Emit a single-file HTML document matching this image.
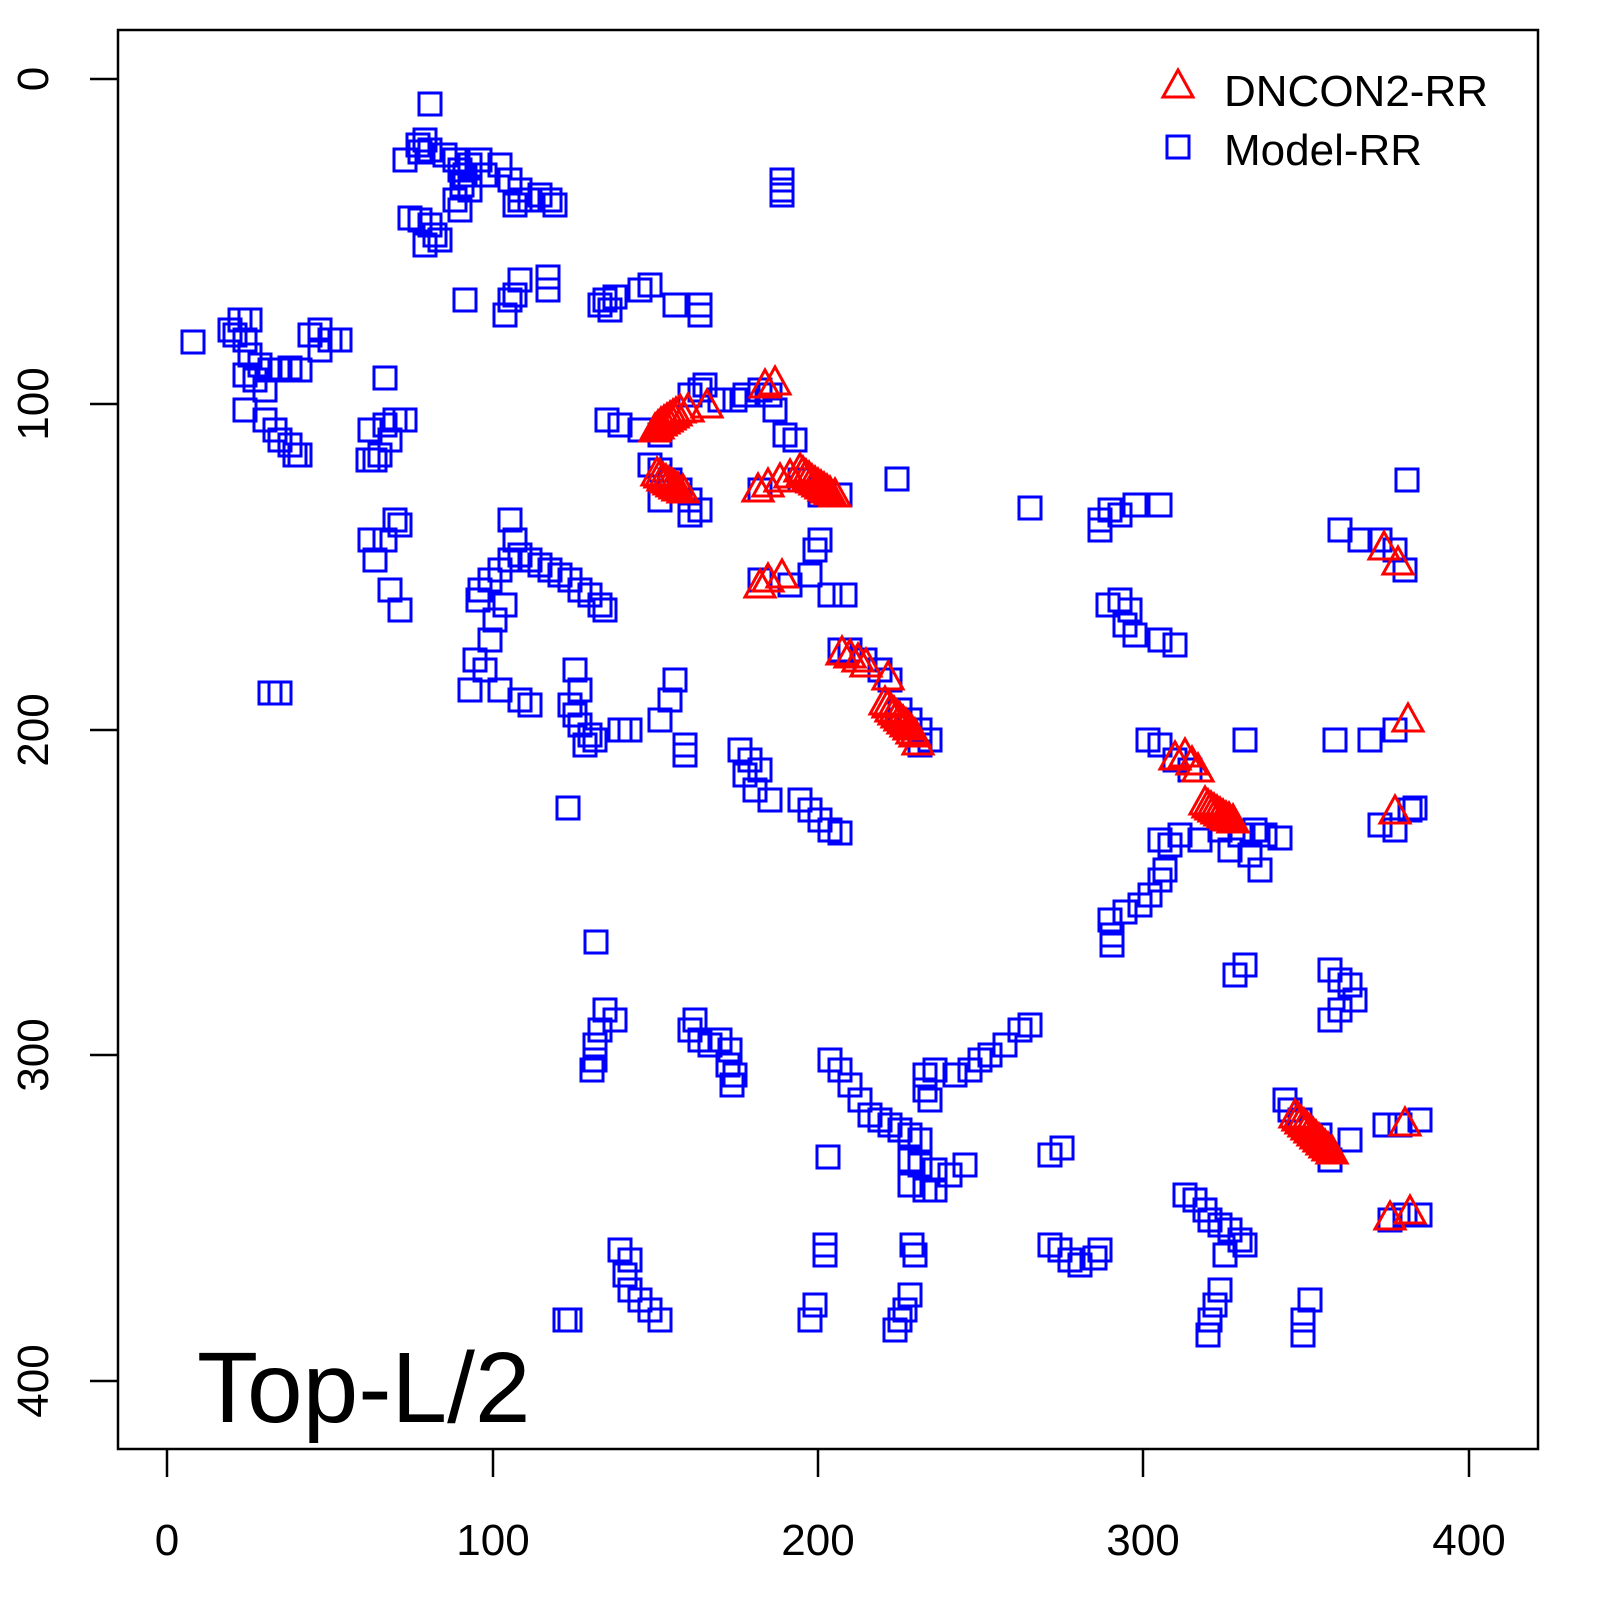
<!DOCTYPE html>
<html><head><meta charset="utf-8"><style>html,body{margin:0;padding:0;background:#fff}svg{display:block}</style></head><body>
<svg width="1600" height="1600" viewBox="0 0 1600 1600" xmlns="http://www.w3.org/2000/svg">
<defs>
<rect id="s" x="-11" y="-11" width="22" height="22" fill="none" stroke="#0000ff" stroke-width="3"/>
<polygon id="t" points="0,-18 -15,9 15,9" fill="none" stroke="#ff0000" stroke-width="3"/>
</defs>
<rect x="118" y="30" width="1420" height="1419" fill="none" stroke="#000" stroke-width="2.5"/>
<g stroke="#000" stroke-width="2.5">
<line x1="167" y1="1449" x2="167" y2="1477"/><line x1="493" y1="1449" x2="493" y2="1477"/><line x1="818" y1="1449" x2="818" y2="1477"/><line x1="1143" y1="1449" x2="1143" y2="1477"/><line x1="1469" y1="1449" x2="1469" y2="1477"/>
<line x1="90" y1="79" x2="118" y2="79"/><line x1="90" y1="404" x2="118" y2="404"/><line x1="90" y1="730" x2="118" y2="730"/><line x1="90" y1="1055" x2="118" y2="1055"/><line x1="90" y1="1381" x2="118" y2="1381"/>
</g>
<g font-family="Liberation Sans, sans-serif" font-size="44" text-anchor="middle" fill="#000">
<text x="167" y="1555">0</text><text x="493" y="1555">100</text><text x="818" y="1555">200</text><text x="1143" y="1555">300</text><text x="1469" y="1555">400</text>
<text transform="translate(48,79) rotate(-90)">0</text>
<text transform="translate(48,404) rotate(-90)">100</text>
<text transform="translate(48,730) rotate(-90)">200</text>
<text transform="translate(48,1055) rotate(-90)">300</text>
<text transform="translate(48,1381) rotate(-90)">400</text>
</g>
<text x="197" y="1422" font-family="Liberation Sans, sans-serif" font-size="100">Top-L/2</text>
<use href="#t" x="1178" y="88"/>
<text x="1224" y="106" font-family="Liberation Sans, sans-serif" font-size="44">DNCON2-RR</text>
<use href="#s" x="1178" y="147"/>
<text x="1224" y="165" font-family="Liberation Sans, sans-serif" font-size="44">Model-RR</text>
<g>
<use href="#s" x="430" y="104"/><use href="#s" x="405" y="160"/><use href="#s" x="418" y="145"/><use href="#s" x="425" y="140"/><use href="#s" x="420" y="152"/><use href="#s" x="430" y="150"/><use href="#s" x="445" y="155"/><use href="#s" x="455" y="160"/><use href="#s" x="460" y="170"/><use href="#s" x="465" y="175"/><use href="#s" x="470" y="165"/><use href="#s" x="480" y="160"/><use href="#s" x="500" y="165"/><use href="#s" x="510" y="180"/><use href="#s" x="520" y="190"/><use href="#s" x="530" y="200"/><use href="#s" x="540" y="195"/><use href="#s" x="550" y="200"/><use href="#s" x="555" y="205"/><use href="#s" x="515" y="205"/><use href="#s" x="520" y="200"/><use href="#s" x="410" y="218"/><use href="#s" x="420" y="220"/><use href="#s" x="430" y="225"/><use href="#s" x="435" y="235"/><use href="#s" x="440" y="240"/><use href="#s" x="425" y="245"/><use href="#s" x="460" y="210"/><use href="#s" x="455" y="200"/><use href="#s" x="462" y="185"/><use href="#s" x="470" y="190"/><use href="#s" x="485" y="175"/>
<use href="#s" x="782" y="180"/><use href="#s" x="782" y="190"/><use href="#s" x="782" y="195"/>
<use href="#s" x="465" y="300"/><use href="#s" x="510" y="300"/><use href="#s" x="505" y="315"/><use href="#s" x="515" y="295"/><use href="#s" x="520" y="280"/><use href="#s" x="548" y="277"/><use href="#s" x="548" y="290"/><use href="#s" x="600" y="305"/><use href="#s" x="610" y="310"/><use href="#s" x="605" y="300"/><use href="#s" x="615" y="297"/><use href="#s" x="640" y="290"/><use href="#s" x="650" y="285"/><use href="#s" x="675" y="305"/><use href="#s" x="700" y="305"/><use href="#s" x="700" y="315"/>
<use href="#s" x="193" y="342"/><use href="#s" x="230" y="330"/><use href="#s" x="240" y="320"/><use href="#s" x="250" y="320"/><use href="#s" x="235" y="335"/><use href="#s" x="245" y="340"/><use href="#s" x="250" y="355"/><use href="#s" x="260" y="365"/><use href="#s" x="270" y="370"/><use href="#s" x="280" y="370"/><use href="#s" x="290" y="368"/><use href="#s" x="300" y="370"/><use href="#s" x="245" y="375"/><use href="#s" x="255" y="380"/><use href="#s" x="265" y="390"/><use href="#s" x="245" y="410"/><use href="#s" x="265" y="420"/><use href="#s" x="275" y="430"/><use href="#s" x="280" y="440"/><use href="#s" x="290" y="445"/><use href="#s" x="295" y="455"/><use href="#s" x="300" y="455"/><use href="#s" x="310" y="335"/><use href="#s" x="320" y="330"/><use href="#s" x="330" y="340"/><use href="#s" x="340" y="340"/><use href="#s" x="320" y="350"/><use href="#s" x="385" y="378"/><use href="#s" x="370" y="430"/><use href="#s" x="368" y="460"/><use href="#s" x="375" y="460"/><use href="#s" x="385" y="425"/><use href="#s" x="395" y="420"/><use href="#s" x="405" y="420"/><use href="#s" x="390" y="440"/><use href="#s" x="380" y="455"/>
<use href="#s" x="607" y="420"/><use href="#s" x="620" y="425"/><use href="#s" x="640" y="430"/><use href="#s" x="660" y="435"/><use href="#s" x="650" y="465"/><use href="#s" x="660" y="470"/><use href="#s" x="670" y="480"/><use href="#s" x="680" y="490"/><use href="#s" x="690" y="500"/><use href="#s" x="700" y="510"/><use href="#s" x="690" y="515"/><use href="#s" x="660" y="500"/>
<use href="#s" x="690" y="395"/><use href="#s" x="700" y="390"/><use href="#s" x="705" y="385"/><use href="#s" x="720" y="400"/><use href="#s" x="735" y="400"/><use href="#s" x="745" y="395"/><use href="#s" x="760" y="390"/><use href="#s" x="770" y="395"/><use href="#s" x="775" y="410"/><use href="#s" x="785" y="435"/><use href="#s" x="795" y="440"/><use href="#s" x="800" y="480"/><use href="#s" x="820" y="495"/><use href="#s" x="840" y="495"/><use href="#s" x="820" y="540"/><use href="#s" x="815" y="550"/><use href="#s" x="830" y="595"/><use href="#s" x="845" y="595"/><use href="#s" x="810" y="575"/><use href="#s" x="760" y="490"/><use href="#s" x="790" y="585"/><use href="#s" x="760" y="580"/>
<use href="#s" x="897" y="479"/><use href="#s" x="1030" y="508"/>
<use href="#s" x="1100" y="520"/><use href="#s" x="1110" y="510"/><use href="#s" x="1120" y="515"/><use href="#s" x="1135" y="505"/><use href="#s" x="1160" y="505"/><use href="#s" x="1100" y="530"/>
<use href="#s" x="1108" y="605"/><use href="#s" x="1120" y="600"/><use href="#s" x="1130" y="610"/><use href="#s" x="1125" y="625"/><use href="#s" x="1135" y="635"/><use href="#s" x="1160" y="640"/><use href="#s" x="1175" y="645"/>
<use href="#s" x="1340" y="530"/><use href="#s" x="1360" y="540"/><use href="#s" x="1380" y="540"/><use href="#s" x="1395" y="550"/><use href="#s" x="1405" y="570"/><use href="#s" x="1407" y="480"/>
<use href="#s" x="370" y="540"/><use href="#s" x="375" y="560"/><use href="#s" x="385" y="540"/><use href="#s" x="395" y="520"/><use href="#s" x="400" y="525"/><use href="#s" x="390" y="590"/><use href="#s" x="400" y="610"/>
<use href="#s" x="478" y="600"/><use href="#s" x="480" y="590"/><use href="#s" x="490" y="580"/><use href="#s" x="500" y="570"/><use href="#s" x="510" y="560"/><use href="#s" x="520" y="555"/><use href="#s" x="530" y="560"/><use href="#s" x="540" y="565"/><use href="#s" x="550" y="570"/><use href="#s" x="560" y="575"/><use href="#s" x="570" y="580"/><use href="#s" x="580" y="590"/><use href="#s" x="590" y="595"/><use href="#s" x="600" y="605"/><use href="#s" x="605" y="610"/><use href="#s" x="510" y="520"/><use href="#s" x="515" y="540"/><use href="#s" x="505" y="605"/><use href="#s" x="495" y="620"/><use href="#s" x="490" y="640"/><use href="#s" x="475" y="660"/><use href="#s" x="470" y="690"/><use href="#s" x="485" y="670"/><use href="#s" x="500" y="690"/><use href="#s" x="520" y="700"/><use href="#s" x="530" y="705"/>
<use href="#s" x="270" y="693"/><use href="#s" x="280" y="693"/>
<use href="#s" x="575" y="670"/><use href="#s" x="580" y="690"/><use href="#s" x="570" y="705"/><use href="#s" x="575" y="715"/><use href="#s" x="580" y="725"/><use href="#s" x="590" y="735"/><use href="#s" x="585" y="745"/><use href="#s" x="595" y="740"/><use href="#s" x="568" y="808"/><use href="#s" x="620" y="730"/><use href="#s" x="630" y="730"/><use href="#s" x="660" y="720"/><use href="#s" x="670" y="700"/><use href="#s" x="675" y="680"/><use href="#s" x="685" y="745"/><use href="#s" x="685" y="755"/>
<use href="#s" x="740" y="750"/><use href="#s" x="750" y="760"/><use href="#s" x="760" y="770"/><use href="#s" x="745" y="775"/><use href="#s" x="755" y="790"/><use href="#s" x="770" y="800"/><use href="#s" x="800" y="800"/><use href="#s" x="810" y="810"/><use href="#s" x="820" y="820"/><use href="#s" x="830" y="830"/><use href="#s" x="840" y="833"/>
<use href="#s" x="840" y="650"/><use href="#s" x="850" y="650"/><use href="#s" x="865" y="660"/><use href="#s" x="880" y="670"/><use href="#s" x="890" y="680"/><use href="#s" x="900" y="710"/><use href="#s" x="910" y="720"/><use href="#s" x="920" y="730"/><use href="#s" x="930" y="740"/><use href="#s" x="920" y="745"/>
<use href="#s" x="1148" y="740"/><use href="#s" x="1160" y="745"/><use href="#s" x="1175" y="760"/><use href="#s" x="1190" y="770"/><use href="#s" x="1245" y="740"/><use href="#s" x="1370" y="740"/><use href="#s" x="1395" y="730"/><use href="#s" x="1335" y="740"/>
<use href="#s" x="1160" y="840"/><use href="#s" x="1170" y="845"/><use href="#s" x="1180" y="835"/><use href="#s" x="1200" y="840"/><use href="#s" x="1220" y="830"/><use href="#s" x="1240" y="835"/><use href="#s" x="1255" y="830"/><use href="#s" x="1265" y="835"/><use href="#s" x="1280" y="838"/><use href="#s" x="1260" y="870"/><use href="#s" x="1165" y="870"/><use href="#s" x="1160" y="880"/><use href="#s" x="1150" y="895"/><use href="#s" x="1140" y="905"/><use href="#s" x="1125" y="912"/><use href="#s" x="1110" y="920"/><use href="#s" x="1112" y="935"/><use href="#s" x="1112" y="945"/><use href="#s" x="1230" y="850"/><use href="#s" x="1250" y="855"/>
<use href="#s" x="1235" y="975"/><use href="#s" x="1245" y="965"/><use href="#s" x="1330" y="970"/><use href="#s" x="1340" y="980"/><use href="#s" x="1350" y="985"/><use href="#s" x="1355" y="1000"/><use href="#s" x="1340" y="1010"/><use href="#s" x="1330" y="1020"/><use href="#s" x="1380" y="825"/><use href="#s" x="1395" y="830"/><use href="#s" x="1410" y="810"/><use href="#s" x="1415" y="808"/>
<use href="#s" x="596" y="942"/>
<use href="#s" x="605" y="1010"/><use href="#s" x="615" y="1020"/><use href="#s" x="600" y="1030"/><use href="#s" x="595" y="1045"/><use href="#s" x="595" y="1060"/><use href="#s" x="592" y="1070"/>
<use href="#s" x="695" y="1020"/><use href="#s" x="690" y="1030"/><use href="#s" x="700" y="1040"/><use href="#s" x="710" y="1045"/><use href="#s" x="720" y="1040"/><use href="#s" x="730" y="1050"/><use href="#s" x="728" y="1065"/><use href="#s" x="735" y="1075"/><use href="#s" x="732" y="1085"/>
<use href="#s" x="830" y="1060"/><use href="#s" x="840" y="1070"/><use href="#s" x="850" y="1085"/><use href="#s" x="860" y="1100"/><use href="#s" x="870" y="1115"/><use href="#s" x="880" y="1120"/><use href="#s" x="890" y="1125"/><use href="#s" x="900" y="1130"/><use href="#s" x="910" y="1135"/><use href="#s" x="920" y="1140"/><use href="#s" x="925" y="1075"/><use href="#s" x="935" y="1070"/><use href="#s" x="955" y="1075"/><use href="#s" x="970" y="1070"/><use href="#s" x="980" y="1060"/><use href="#s" x="990" y="1055"/><use href="#s" x="1005" y="1045"/><use href="#s" x="1020" y="1030"/><use href="#s" x="1030" y="1025"/><use href="#s" x="910" y="1160"/><use href="#s" x="920" y="1165"/><use href="#s" x="935" y="1170"/><use href="#s" x="950" y="1175"/><use href="#s" x="965" y="1165"/><use href="#s" x="925" y="1190"/><use href="#s" x="935" y="1190"/><use href="#s" x="910" y="1185"/><use href="#s" x="925" y="1090"/><use href="#s" x="930" y="1100"/>
<use href="#s" x="1050" y="1155"/><use href="#s" x="1062" y="1148"/><use href="#s" x="828" y="1157"/>
<use href="#s" x="1185" y="1195"/><use href="#s" x="1195" y="1200"/><use href="#s" x="1205" y="1210"/><use href="#s" x="1210" y="1220"/><use href="#s" x="1220" y="1225"/><use href="#s" x="1230" y="1230"/><use href="#s" x="1240" y="1240"/><use href="#s" x="1245" y="1245"/><use href="#s" x="1225" y="1255"/>
<use href="#s" x="1285" y="1100"/><use href="#s" x="1290" y="1110"/><use href="#s" x="1300" y="1120"/><use href="#s" x="1320" y="1135"/><use href="#s" x="1330" y="1160"/><use href="#s" x="1350" y="1140"/><use href="#s" x="1385" y="1125"/><use href="#s" x="1400" y="1125"/><use href="#s" x="1420" y="1120"/>
<use href="#s" x="620" y="1250"/><use href="#s" x="630" y="1260"/><use href="#s" x="625" y="1275"/><use href="#s" x="630" y="1290"/><use href="#s" x="640" y="1300"/><use href="#s" x="650" y="1310"/><use href="#s" x="660" y="1320"/><use href="#s" x="570" y="1320"/><use href="#s" x="565" y="1320"/>
<use href="#s" x="825" y="1245"/><use href="#s" x="825" y="1255"/><use href="#s" x="815" y="1305"/><use href="#s" x="810" y="1320"/><use href="#s" x="900" y="1320"/><use href="#s" x="905" y="1310"/><use href="#s" x="910" y="1295"/><use href="#s" x="895" y="1330"/>
<use href="#s" x="1050" y="1245"/><use href="#s" x="1060" y="1250"/><use href="#s" x="1070" y="1260"/><use href="#s" x="1080" y="1265"/><use href="#s" x="1095" y="1258"/><use href="#s" x="1100" y="1250"/>
<use href="#s" x="1220" y="1290"/><use href="#s" x="1215" y="1305"/><use href="#s" x="1210" y="1320"/><use href="#s" x="1208" y="1335"/><use href="#s" x="1310" y="1300"/><use href="#s" x="1303" y="1320"/><use href="#s" x="1303" y="1335"/>
<use href="#s" x="912" y="1245"/><use href="#s" x="915" y="1255"/><use href="#s" x="1390" y="1220"/><use href="#s" x="1405" y="1215"/><use href="#s" x="1420" y="1215"/>
</g>
<g>
<use href="#t" x="765" y="388"/><use href="#t" x="775" y="385"/><use href="#t" x="707" y="408"/>
<use href="#t" x="655" y="432"/><use href="#t" x="658" y="429"/><use href="#t" x="661" y="426"/><use href="#t" x="664" y="424"/><use href="#t" x="667" y="422"/><use href="#t" x="670" y="420"/><use href="#t" x="673" y="418"/><use href="#t" x="676" y="416"/><use href="#t" x="680" y="413"/><use href="#t" x="688" y="412"/>
<use href="#t" x="657" y="476"/><use href="#t" x="660" y="478"/><use href="#t" x="663" y="481"/><use href="#t" x="666" y="483"/><use href="#t" x="669" y="485"/><use href="#t" x="672" y="487"/><use href="#t" x="675" y="489"/><use href="#t" x="678" y="491"/><use href="#t" x="683" y="493"/>
<use href="#t" x="758" y="492"/><use href="#t" x="768" y="487"/><use href="#t" x="780" y="482"/><use href="#t" x="790" y="478"/>
<use href="#t" x="800" y="472"/><use href="#t" x="803" y="475"/><use href="#t" x="806" y="478"/><use href="#t" x="809" y="480"/><use href="#t" x="812" y="483"/><use href="#t" x="815" y="485"/><use href="#t" x="818" y="487"/><use href="#t" x="821" y="489"/><use href="#t" x="824" y="491"/><use href="#t" x="827" y="493"/><use href="#t" x="830" y="495"/><use href="#t" x="835" y="497"/>
<use href="#t" x="760" y="588"/><use href="#t" x="768" y="582"/><use href="#t" x="782" y="578"/>
<use href="#t" x="842" y="655"/><use href="#t" x="850" y="658"/><use href="#t" x="858" y="662"/><use href="#t" x="866" y="667"/><use href="#t" x="888" y="680"/>
<use href="#t" x="885" y="705"/><use href="#t" x="888" y="708"/><use href="#t" x="891" y="712"/><use href="#t" x="894" y="715"/><use href="#t" x="897" y="718"/><use href="#t" x="900" y="721"/><use href="#t" x="903" y="724"/><use href="#t" x="906" y="727"/><use href="#t" x="909" y="730"/><use href="#t" x="912" y="734"/><use href="#t" x="915" y="737"/><use href="#t" x="918" y="745"/>
<use href="#t" x="1175" y="760"/><use href="#t" x="1185" y="757"/><use href="#t" x="1192" y="765"/><use href="#t" x="1198" y="772"/>
<use href="#t" x="1205" y="805"/><use href="#t" x="1208" y="808"/><use href="#t" x="1211" y="810"/><use href="#t" x="1214" y="812"/><use href="#t" x="1217" y="814"/><use href="#t" x="1220" y="816"/><use href="#t" x="1223" y="818"/><use href="#t" x="1226" y="820"/><use href="#t" x="1229" y="821"/><use href="#t" x="1233" y="823"/>
<use href="#t" x="1384" y="550"/><use href="#t" x="1398" y="565"/><use href="#t" x="1408" y="722"/><use href="#t" x="1395" y="814"/>
<use href="#t" x="1295" y="1118"/><use href="#t" x="1298" y="1121"/><use href="#t" x="1301" y="1124"/><use href="#t" x="1304" y="1127"/><use href="#t" x="1307" y="1130"/><use href="#t" x="1310" y="1133"/><use href="#t" x="1313" y="1136"/><use href="#t" x="1316" y="1139"/><use href="#t" x="1319" y="1142"/><use href="#t" x="1322" y="1145"/><use href="#t" x="1325" y="1148"/><use href="#t" x="1328" y="1151"/><use href="#t" x="1332" y="1154"/>
<use href="#t" x="1405" y="1126"/><use href="#t" x="1390" y="1220"/><use href="#t" x="1410" y="1214"/>
</g>
</svg>
</body></html>
